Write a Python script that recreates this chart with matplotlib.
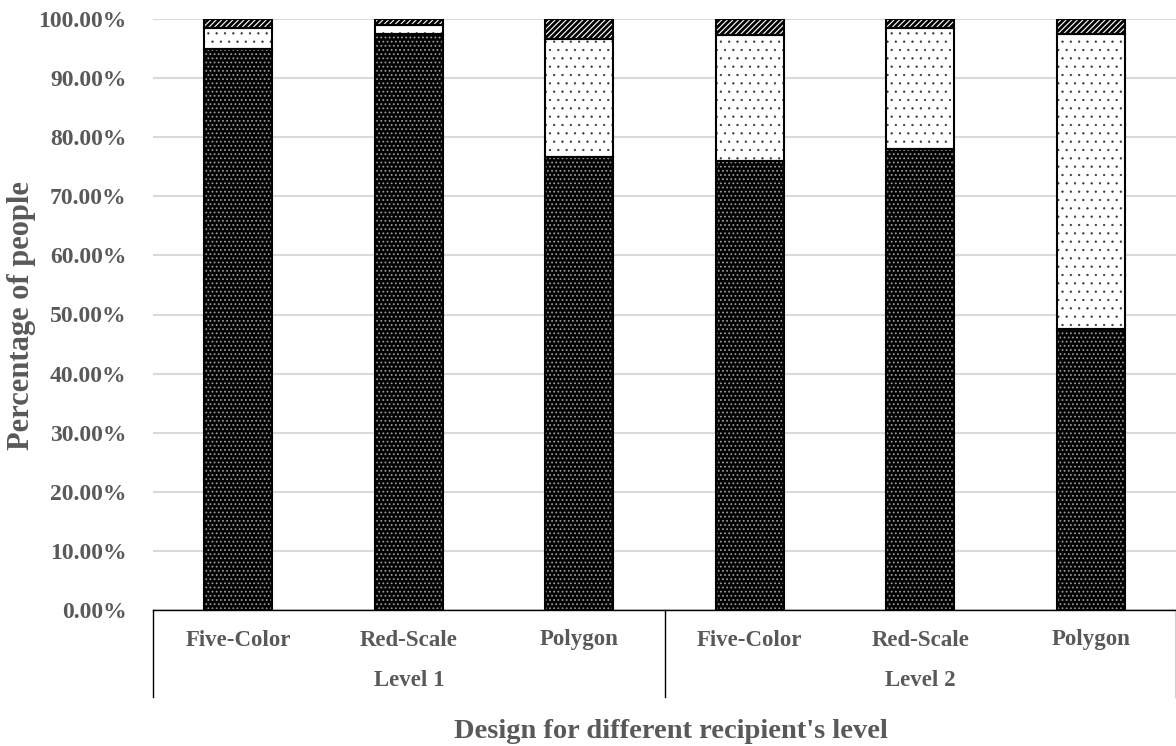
import matplotlib
matplotlib.use("Agg")
import matplotlib.pyplot as plt
import numpy as np

categories = ["Five-Color", "Red-Scale", "Polygon", "Five-Color", "Red-Scale", "Polygon"]
levels = ["Level 1", "Level 2"]
seg_bottom = [95.0, 97.5, 76.7, 76.0, 78.0, 47.5]
seg_middle = [3.4, 1.5, 19.9, 21.3, 20.5, 50.0]
seg_top = [1.6, 1.0, 3.4, 2.7, 1.5, 2.5]

plt.rcParams['font.family'] = ['Liberation Serif', 'DejaVu Serif']
plt.rcParams['font.weight'] = 'bold'

fig = plt.figure(figsize=(11.76, 7.46), dpi=100)
ax = fig.add_axes([153/1176, 1-610/746, 1-153/1176, (610-19)/746])

x = np.arange(len(categories))
w = 0.40
bottom = np.array(seg_bottom)
mid = np.array(seg_middle)
top = np.array(seg_top)

# bottom dark dotted
with plt.rc_context({'hatch.linewidth': 0.8}):
    ax.bar(x, bottom, w, color='black', edgecolor='#9a9a9a', hatch='....', linewidth=0, zorder=3)
ax.bar(x, bottom, w, color='none', edgecolor='black', linewidth=1.5, zorder=4)
# middle sparse dots
with plt.rc_context({'hatch.linewidth': 0.4}):
    ax.bar(x, mid, w, bottom=bottom, color='white', edgecolor='#333333', hatch='..', linewidth=0, zorder=3)
ax.bar(x, mid, w, bottom=bottom, color='none', edgecolor='black', linewidth=1.5, zorder=4)
# top hatched
with plt.rc_context({'hatch.linewidth': 2.0}):
    ax.bar(x, top, w, bottom=bottom+mid, color='white', edgecolor='black', hatch='//////', linewidth=0, zorder=3)
ax.bar(x, top, w, bottom=bottom+mid, color='none', edgecolor='black', linewidth=1.5, zorder=4)

ax.set_xlim(-0.5, len(categories)-0.5)
ax.set_ylim(0, 100)
ax.set_yticks(np.arange(0, 101, 10))
ax.set_yticklabels([f"{v:.2f}%" for v in np.arange(0, 101, 10)], fontsize=17, color='#595959', fontweight='bold')
ax.yaxis.grid(True, color='#d9d9d9', linewidth=1.5, zorder=0)
ax.set_axisbelow(True)
ax.tick_params(axis='y', length=0, pad=19)
ax.tick_params(axis='x', length=0)
ax.set_xticks([])
for s in ['top', 'right', 'left']:
    ax.spines[s].set_visible(False)
ax.spines['bottom'].set_color('black')
ax.spines['bottom'].set_linewidth(1.0)

# multi-level category axis
trans = ax.get_xaxis_transform()
for i, c in enumerate(categories):
    ax.text(i, -30/591, c, transform=trans, ha='center', va='center', fontsize=16.5,
            color='#595959', fontweight='bold')
for j, lv in enumerate(levels):
    ax.text(j*3+1, -71/591, lv, transform=trans, ha='center', va='center', fontsize=16.5,
            color='#595959', fontweight='bold')
for xs in [-0.5, 2.5, 5.5]:
    ax.plot([xs, xs], [0, -87/591], transform=trans, color='black', linewidth=1.0, clip_on=False)

fig.text(671/1176, 1-731/746, "Design for different recipient's level",
         ha='center', va='center', fontsize=20.5, color='#595959', fontweight='bold')
fig.text(22/1176, 1-316/746, "Percentage of people", rotation=90, ha='center', va='center',
         fontsize=22, color='#595959', fontweight='bold')

fig.savefig("out.png", dpi=100)
